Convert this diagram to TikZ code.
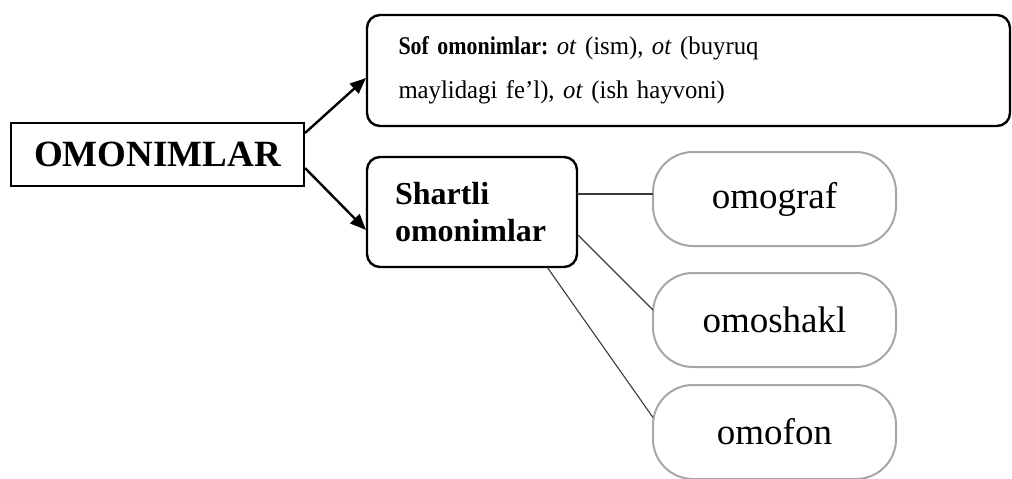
\documentclass[tikz,border=0pt]{standalone}
\usepackage{fontspec}
\setmainfont{Liberation Serif}
\newfontfamily\sofreg[FakeStretch=0.97]{Liberation Serif}
\newfontfamily\sofbold[FakeStretch=0.86]{Liberation Serif}
\usetikzlibrary{arrows.meta,calc}
\definecolor{boxgray}{HTML}{A6A6A6}
\definecolor{linegray}{HTML}{3A3A3A}
\tikzset{
  every node/.style={outer sep=0pt},
  mainbox/.style={draw=black, line width=2.6pt, fill=white, inner sep=0pt},
  blackround/.style={draw=black, line width=2.4pt, fill=white, rounded corners=13pt, inner sep=0pt, align=left},
  grayround/.style={draw=boxgray, line width=2pt, fill=white, rounded corners=40pt, inner sep=0pt,
     minimum width=243pt, minimum height=94pt, font=\fontsize{37}{42}\selectfont},
  bigarrow/.style={line width=2.4pt, -{Triangle[length=16pt,width=13pt]}},
  thinline/.style={draw=linegray, line width=1.1pt}
}
\begin{document}
\frenchspacing
\begin{tikzpicture}[x=1pt,y=-1pt]
\useasboundingbox (0,0) rectangle (1012,479);
\node[mainbox, minimum width=293pt, minimum height=63pt, font=\fontsize{37}{42}\selectfont\bfseries]
  (om) at (157.5,154.5) {OMONIMLAR};
\node[blackround, minimum width=643pt, minimum height=111pt, text width=586pt,
  font=\sofreg\fontsize{25.5}{44}\selectfont\frenchspacing]
  (sof) at (688.5,70.5) {\hspace*{3pt}{\sofbold\bfseries Sof omonimlar:} \textit{ot} (ism), \textit{ot} (buyruq\\\hspace*{3pt}maylidagi fe’l), \textit{ot} (ish hayvoni)};
\node[blackround, minimum width=210pt, minimum height=110pt, text width=156pt,
  font=\fontsize{32}{37}\selectfont\bfseries]
  (sh) at (472,212) {\hspace*{1pt}Shartli\\\hspace*{1pt}omonimlar};
\node[grayround] (og) at (774.5,199) {omograf};
\node[grayround] (os) at (774.5,320) {omoshakl};
\node[grayround] (of) at (774.5,432) {omofon};
\draw[bigarrow] ($(om.north east)+(1,10)$) -- ($(sof.west)+(-1,7.5)$);
\draw[bigarrow] ($(om.south east)+(1,-18)$) -- ($(sh.south west)+(-1,-37)$);
\draw[thinline] ($(sh.north east)+(0,37)$) -- ($(og.west)+(0,-5)$);
\draw[thinline] ($(sh.south east)+(1,-32)$) -- ($(os.west)+(0,-10)$);
\draw[thinline] ($(sh.south east)+(-30,0)$) -- ($(of.west)+(0,-14.5)$);
\end{tikzpicture}
\end{document}
